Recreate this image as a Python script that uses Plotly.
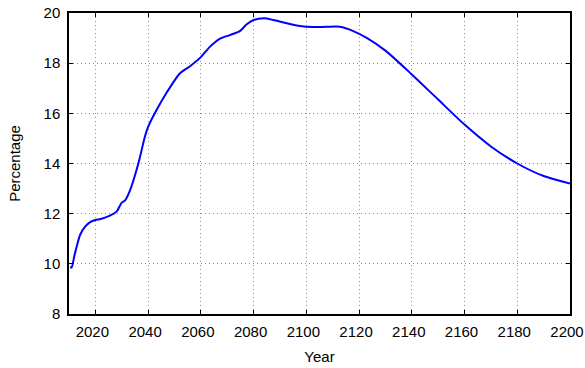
import plotly.graph_objects as go

# Projected share over time
years = [2010.4, 2011.0, 2012.0, 2012.9, 2014.2, 2016.1, 2018.0, 2020.0, 2022.0,
         2025.5, 2028.0, 2030.0, 2031.2, 2033.1, 2036.3, 2038.8, 2040.0, 2043.3,
         2047.0, 2052.1, 2055.9, 2060.0, 2063.5, 2067.3, 2071.0, 2074.8, 2077.4,
         2080.0, 2084.0, 2087.5, 2092.6, 2097.6, 2102.6, 2107.7, 2112.8, 2117.8,
         2122.9, 2130.0, 2140.0, 2150.0, 2160.0, 2170.0, 2180.0, 2190.0, 2200.0]
percentage = [9.86, 9.86, 10.3, 10.68, 11.15, 11.48, 11.66, 11.75, 11.79,
              11.92, 12.08, 12.44, 12.52, 12.92, 14.0, 15.08, 15.46, 16.15,
              16.82, 17.6, 17.88, 18.24, 18.66, 18.98, 19.12, 19.28, 19.55,
              19.72, 19.79, 19.72, 19.59, 19.48, 19.44, 19.45, 19.45, 19.28,
              19.01, 18.5, 17.55, 16.55, 15.55, 14.68, 14.0, 13.5, 13.2]

x_ticks = [2020, 2040, 2060, 2080, 2100, 2120, 2140, 2160, 2180, 2200]
y_ticks = [8, 10, 12, 14, 16, 18, 20]

FONT = "Liberation Sans, Arial, sans-serif"

fig = go.Figure(go.Scatter(
    x=years, y=percentage, mode="lines",
    line=dict(color="#0000ff", width=2, shape="spline", smoothing=0.7),
    showlegend=False,
))

axis_common = dict(
    showline=True, linecolor="black", linewidth=1.5, mirror="ticks",
    ticks="inside", ticklen=4, tickcolor="black", tickwidth=1,
    showgrid=True, gridcolor="#8c8c8c", gridwidth=1, griddash="1px,3px",
    zeroline=False, ticklabeloverflow="allow",
    tickfont=dict(family=FONT, size=15, color="black"),
    title_font=dict(family=FONT, size=15, color="black"),
)

fig.update_xaxes(range=[2010, 2200], tickvals=x_ticks, title_text="Year",
                 title_standoff=13, ticklabelstandoff=3, ticklabelshift=-3,
                 **axis_common)
fig.update_yaxes(range=[8, 20], tickvals=y_ticks, title_text="Percentage",
                 title_standoff=19, ticklabelstandoff=4, **axis_common)

fig.update_layout(
    width=585, height=368,
    margin=dict(l=69, r=15, t=13, b=54, autoexpand=False),
    paper_bgcolor="white", plot_bgcolor="white",
)

fig.write_html("out.html")
